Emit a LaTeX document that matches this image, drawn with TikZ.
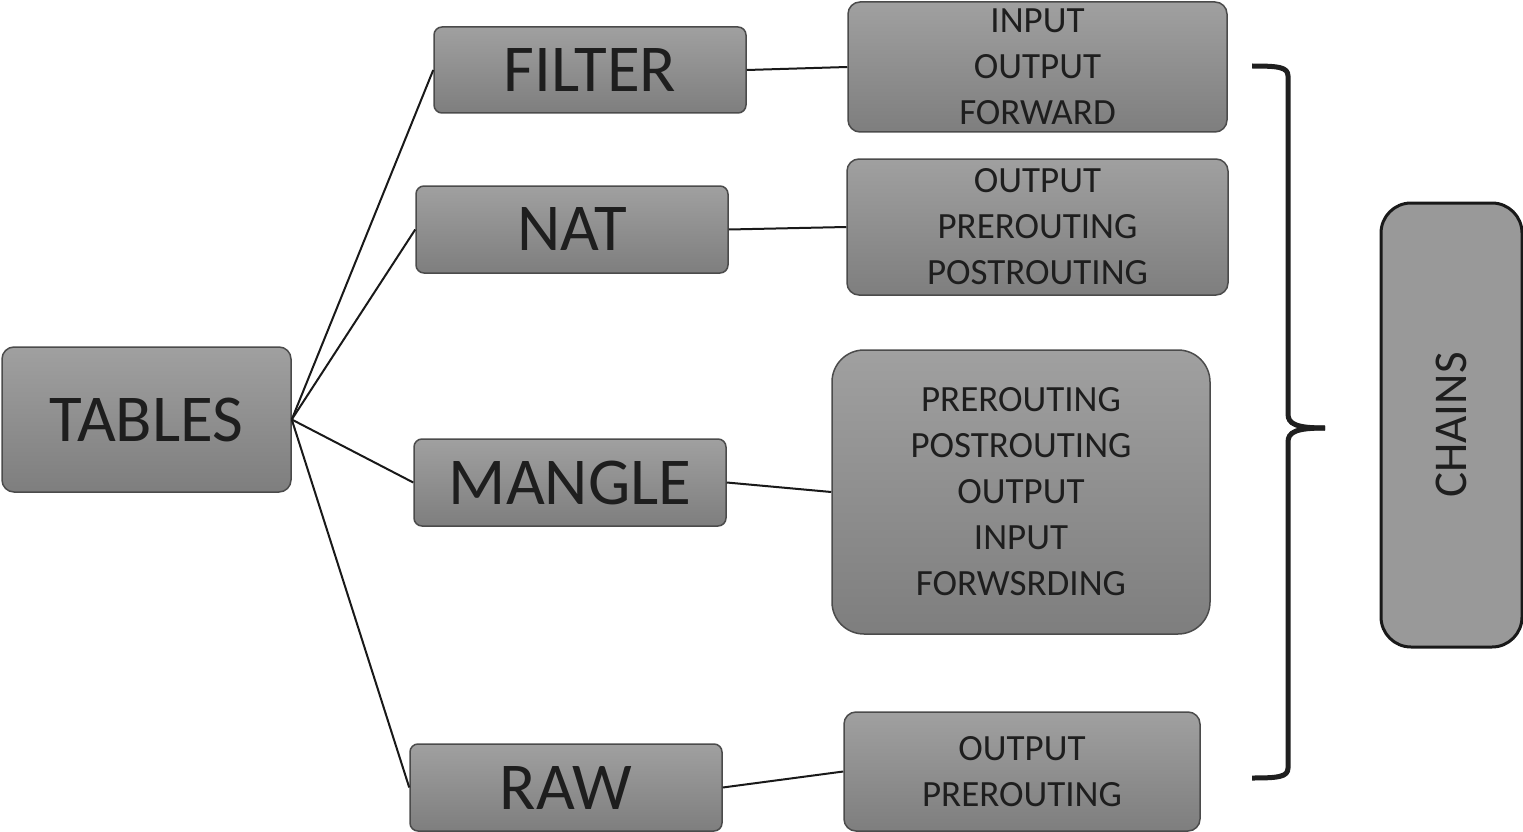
\documentclass[tikz,border=0pt]{standalone}
\usepackage{fontspec}
\setmainfont{Carlito}
\definecolor{gtop}{RGB}{160,160,160}
\definecolor{gbot}{RGB}{126,126,126}
\definecolor{edgec}{RGB}{75,75,75}
\definecolor{txtc}{RGB}{30,30,30}
\definecolor{chainfill}{RGB}{153,153,153}
\begin{document}
\begin{tikzpicture}[x=1pt,y=-1pt,
  gbox/.style={draw=edgec, line width=1.5pt, top color=gtop, bottom color=gbot,
    rounded corners=8pt, inner sep=0pt, align=center, text=txtc},
  bigbox/.style={gbox, font=\fontsize{67}{80}\selectfont},
  chainbox/.style={gbox, font=\fontsize{37}{46}\selectfont},
  conn/.style={draw=black!90, line width=2pt},
  brace/.style={draw=black!88, line width=5pt}]
\useasboundingbox (0,0) rectangle (1523,832);
% tables
\node[bigbox, rounded corners=12pt, minimum width=289pt, minimum height=145pt] (tables) at (146.5,419.5) {TABLES};
\node[bigbox, minimum width=312pt, minimum height=86pt] (filter) at (590,70) {FILTER};
\node[bigbox, minimum width=312pt, minimum height=87pt] (nat) at (572,229.5) {NAT};
\node[bigbox, minimum width=312pt, minimum height=87pt] (mangle) at (570,482.5) {MANGLE};
\node[bigbox, minimum width=312pt, minimum height=87pt] (raw) at (566,787.5) {RAW};
% chains
\node[chainbox, rounded corners=12pt, minimum width=379pt, minimum height=130pt] (fc) at (1037.5,67) {INPUT\\OUTPUT\\FORWARD};
\node[chainbox, rounded corners=12pt, minimum width=381pt, minimum height=136pt] (nc) at (1037.5,227) {OUTPUT\\PREROUTING\\POSTROUTING};
\node[chainbox, rounded corners=32pt, minimum width=378pt, minimum height=284pt] (mc) at (1021,492) {PREROUTING\\POSTROUTING\\OUTPUT\\INPUT\\FORWSRDING};
\node[chainbox, rounded corners=12pt, minimum width=356pt, minimum height=119pt] (rc) at (1022,771.5) {OUTPUT\\PREROUTING};
% CHAINS
\node[draw=black!90, line width=3pt, fill=chainfill, rounded corners=30pt, minimum width=141pt, minimum height=444pt, inner sep=0pt, text=txtc] (chains) at (1451.5,425) {\rotatebox{90}{\fontsize{47}{56}\selectfont CHAINS}};
% connectors
\draw[conn] (tables.east) -- (filter.west);
\draw[conn] (tables.east) -- (nat.west);
\draw[conn] (tables.east) -- (mangle.west);
\draw[conn] (tables.east) -- (raw.west);
\draw[conn] (filter.east) -- (fc.west);
\draw[conn] (nat.east) -- (nc.west);
\draw[conn] (mangle.east) -- (mc.west);
\draw[conn] (raw.east) -- (rc.west);
% brace
\draw[brace] (1252,66) .. controls (1278,66) and (1288,67) .. (1288,76) -- (1288,414)
  .. controls (1288,424) and (1296,428) .. (1325,428);
\draw[brace] (1325,428) .. controls (1296,428) and (1288,432) .. (1288,442) -- (1288,768)
  .. controls (1288,777) and (1278,778) .. (1252,778);
\end{tikzpicture}
\end{document}
